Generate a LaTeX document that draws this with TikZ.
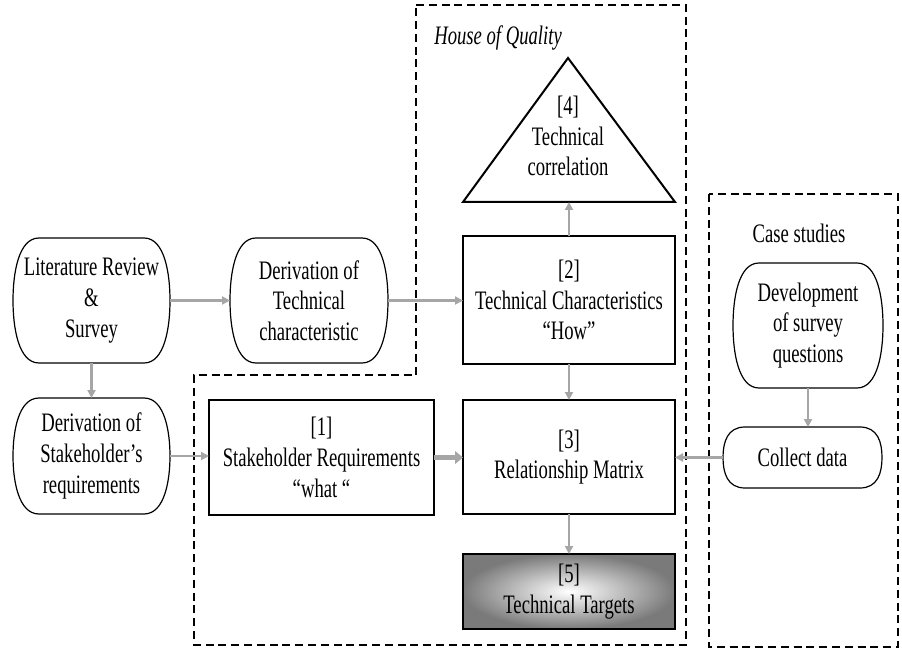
\documentclass[tikz,border=0pt]{standalone}
\usepackage{fontspec}
\setmainfont{Liberation Serif}[FakeStretch=0.70]
\usetikzlibrary{arrows.meta,calc}
\definecolor{argray}{RGB}{166,166,166}
\begin{document}
\begin{tikzpicture}[x=0.75pt,y=-0.75pt,
  every node/.style={font=\fontsize{20}{23}\selectfont, align=center, inner sep=0pt},
  box/.style={draw=black, line width=1.5pt, minimum width=159pt, outer sep=0pt},
  stad/.style={draw=none, outer sep=0pt},
  stadline/.style={line width=0.9pt, black},
  arr/.style={draw=argray, line width=1.7pt, -{Triangle[length=6pt,width=6pt]}},
  thickarr/.style={draw=argray, line width=3.8pt, -{Triangle[length=6pt,width=9.5pt]}},
  frame/.style={line width=1.9pt, dash pattern=on 6pt off 3.6pt}
]
\useasboundingbox (0,0) rectangle (902,652);
\fill[white] (0,0) rectangle (902,652);

% dashed frames
\draw[frame] (416,5) -- (686,5) -- (686,645) -- (194,645) -- (194,375) -- (416,375) -- cycle;
\draw[frame] (709,194) rectangle (898,647);

% labels
\node[anchor=west, font=\fontsize{20}{23}\selectfont\itshape] (hoq) at (434,38) {House of Quality};
\node (cslab) at (799,233) {Case studies};

% stadium nodes
\node[stad, minimum width=117.75pt, minimum height=93.75pt] (lit) at (91.5,300.5) {Literature Review\\ \&\\ Survey};
\node[stad, minimum width=118.5pt, minimum height=93.75pt] (dtc) at (309,300.5) {Derivation of\\ Technical\\ characteristic};
\node[stad, minimum width=117.75pt, minimum height=87pt] (dsr) at (91.5,456) {Derivation of\\ Stakeholder’s\\ requirements};
\node[stad, minimum width=112.5pt, minimum height=93.75pt] (dev) at (808,325.5) {Development\\ of survey\\ questions};
\node[stad, minimum width=119.25pt, minimum height=45.75pt] (col) at (802.5,457.5) {Collect data};

\foreach \n/\a/\b in {lit/26/36, dtc/26/36, dsr/26/34, dev/26/36, col/22/15} {
  \draw[stadline] ($(\n.north west)+(\a,0)$) -- ($(\n.north east)+(-\a,0)$)
    .. controls ($(\n.north east)+(-\a/5,0)$) and ($(\n.north east)+(0,\b)$) .. (\n.east)
    .. controls ($(\n.south east)+(0,-\b)$) and ($(\n.south east)+(-\a/5,0)$) .. ($(\n.south east)+(-\a,0)$)
    -- ($(\n.south west)+(\a,0)$)
    .. controls ($(\n.south west)+(\a/5,0)$) and ($(\n.south west)+(0,-\b)$) .. (\n.west)
    .. controls ($(\n.north west)+(0,\b)$) and ($(\n.north west)+(\a/5,0)$) .. cycle;
}

% rectangular boxes
\node[box, minimum width=168.75pt, minimum height=86.25pt] (sr) at (321.5,457.5) {[1]\\ Stakeholder Requirements\\ “what “};
\node[box, minimum height=96pt] (tc) at (569,300) {[2]\\ Technical Characteristics\\ “How”};
\node[box, minimum height=85.5pt] (rm) at (569,457) {[3]\\ Relationship Matrix};
\node[box, minimum height=56.25pt, shading=radial, inner color=white, outer color=black!52] (tt) at (569,591.5) {[5]\\ Technical Targets};

% triangle
\coordinate (tl) at (463,202);
\coordinate (tr) at (675,202);
\coordinate (tapex) at (568,58);
\coordinate (tbase) at (569,202);
\draw[line width=1.5pt, line join=miter] (tl) -- (tapex) -- (tr) -- cycle;
\node (tri) at (568,136) {[4]\\ Technical\\ correlation};

% connectors
\draw[arr] (lit.east) -- (dtc.west);
\draw[arr] (dtc.east) -- (dtc.east -| tc.west);
\draw[arr] (lit.south) -- (dsr.north);
\draw[arr] (dsr.east) -- (dsr.east -| sr.west);
\draw[thickarr] (sr.east) -- (sr.east -| rm.west);
\draw[arr, line width=2.2pt] (tc.north) -- (tbase);
\draw[arr] (tc.south) -- (rm.north);
\draw[arr] (rm.south) -- (tt.north);
\draw[arr] (dev.south) -- (dev.south |- col.north);
\draw[arr] (col.west) -- (col.west -| rm.east);
\end{tikzpicture}
\end{document}
